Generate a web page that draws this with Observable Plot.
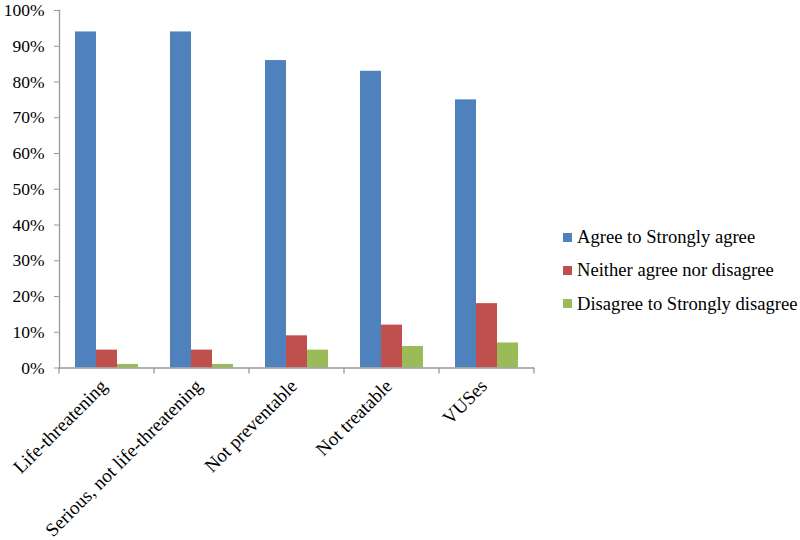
<!DOCTYPE html>
<html><head><meta charset="utf-8">
<script src="https://cdn.jsdelivr.net/npm/d3@7"></script>
<script src="https://cdn.jsdelivr.net/npm/@observablehq/plot@0.6"></script>
<style>
body{margin:0;background:#fff}
#wrap{position:relative;width:800px;height:540px;font-family:"Liberation Serif","Times New Roman",serif;}
#legend{position:absolute;left:563px;top:220.5px;font-size:18.6px;color:#000}
.item{display:flex;align-items:center;height:33.3px;white-space:nowrap}
.sw{width:9px;height:9px;margin-right:5px;flex:none}
</style></head><body><div id="wrap"><div id="legend"></div></div>
<script>
const categories = ["Life-threatening","Serious, not life-threatening","Not preventable","Not treatable","VUSes"];
const series = ["Agree to Strongly agree","Neither agree nor disagree","Disagree to Strongly disagree"];
const agree = [94,94,86,83,75];
const neither = [5,5,9,12,18];
const disagree = [1,1,5,6,7];
const colors = ["#4F81BD","#C0504D","#9BBB59"];
const yTicks = [0,10,20,30,40,50,60,70,80,90,100];

const valuesBySeries = [agree, neither, disagree];
const rows = categories.flatMap((c,i)=>series.map((s,j)=>({category:c, series:s, value:valuesBySeries[j][i]/100})));
const axisColor = "#999";

const chart = Plot.plot({
  width:800, height:540,
  marginLeft:57, marginRight:264, marginTop:10, marginBottom:172.5,
  style:{fontFamily:"'Liberation Serif', 'Times New Roman', serif", fontSize:"17.5px", color:"#000", background:"white", overflow:"visible"},
  fx:{domain:categories, padding:0, label:null},
  x:{domain:series, paddingInner:0, paddingOuter:0.745, axis:null},
  y:{domain:[0,1], label:null},
  color:{domain:series, range:colors},
  marks:[
    Plot.barY(rows,{fx:"category", x:"series", y:"value", fill:"series"}),
    Plot.ruleY([0],{stroke:axisColor, strokeWidth:1.3}),
    Plot.frame({anchor:"left", stroke:axisColor, strokeWidth:1.3, facetAnchor:"left"}),
    Plot.axisY({ticks:yTicks.map(v=>v/100), tickFormat:d3.format(".0%"), tickSize:5, tickPadding:10, stroke:axisColor, fill:"#000", label:null}),
    Plot.axisFx({anchor:"bottom", tickRotate:-45, tickSize:0, tickPadding:15, dx:-3, fill:"#000", fontSize:19, label:null})
  ]
});

const fx = chart.scale("fx");
const y = chart.scale("y");
const y0 = y.apply(0);
const edges = categories.map(c=>fx.apply(c)).concat([fx.apply(categories[categories.length-1]) + fx.bandwidth]);
d3.select(chart).append("g").selectAll("line").data(edges).join("line")
  .attr("x1",d=>d).attr("x2",d=>d).attr("y1",y0).attr("y2",y0+6)
  .attr("stroke",axisColor).attr("stroke-width",1.3);

const wrap = document.getElementById("wrap");
wrap.insertBefore(chart, wrap.firstChild);

const legend = d3.select("#legend");
series.forEach((s,j)=>{
  const it = legend.append("div").attr("class","item");
  it.append("div").attr("class","sw").style("background", colors[j]);
  it.append("span").text(s);
});
</script>
</body></html>
